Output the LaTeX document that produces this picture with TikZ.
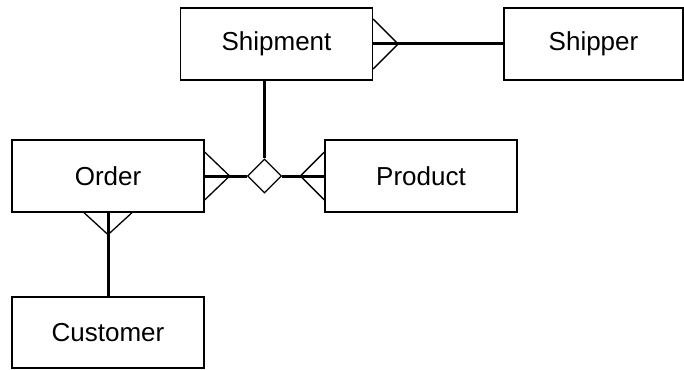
\documentclass[tikz,border=0pt]{standalone}
\usepackage{fontspec}
\setmainfont{Liberation Sans}
\usetikzlibrary{shapes.geometric}
\begin{document}
\begin{tikzpicture}[x=1pt,y=-1pt,
  entity/.style={draw,line width=1.3pt,minimum width=192pt,minimum height=72pt,inner sep=0pt,font=\fontsize{26}{30}\selectfont},
  rel/.style={draw,diamond,line width=1.3pt,minimum width=34pt,minimum height=34pt,inner sep=0pt},
  link/.style={line width=3pt},
  foot/.style={line width=1.3pt}]
\useasboundingbox (0,0) rectangle (684,369);
\node[entity] (shipment) at (276.5,44) {Shipment};
\node[entity,minimum width=179pt] (shipper) at (593.5,44) {Shipper};
\node[entity] (order) at (108,176) {Order};
\node[entity] (product) at (421,176) {Product};
\node[entity,minimum height=71pt] (customer) at (108,332.5) {Customer};
\node[rel] (r) at (264.5,176) {};
% Shipment - Shipper
\draw[link] (shipment.east) -- (shipper.west);
\coordinate (sp) at ([xshift=25pt]shipment.east);
\draw[foot] ([yshift=25pt]shipment.east) -- (sp) -- ([yshift=-25pt]shipment.east);
% Shipment - relationship
\draw[link] (shipment.south -| r.north) -- (r.north);
% Order - relationship
\draw[link] (order.east) -- (r.west);
\coordinate (op) at ([xshift=25pt]order.east);
\draw[foot] ([yshift=24pt]order.east) -- (op) -- ([yshift=-24pt]order.east);
% Product - relationship
\draw[link] (r.east) -- (product.west);
\coordinate (pp) at ([xshift=-24pt]product.west);
\draw[foot] ([yshift=24pt]product.west) -- (pp) -- ([yshift=-24pt]product.west);
% Order - Customer
\draw[link] (order.south) -- (customer.north);
\coordinate (cp) at ([yshift=-22pt]order.south);
\draw[foot] ([xshift=-24pt]order.south) -- (cp) -- ([xshift=24pt]order.south);
\end{tikzpicture}
\end{document}
